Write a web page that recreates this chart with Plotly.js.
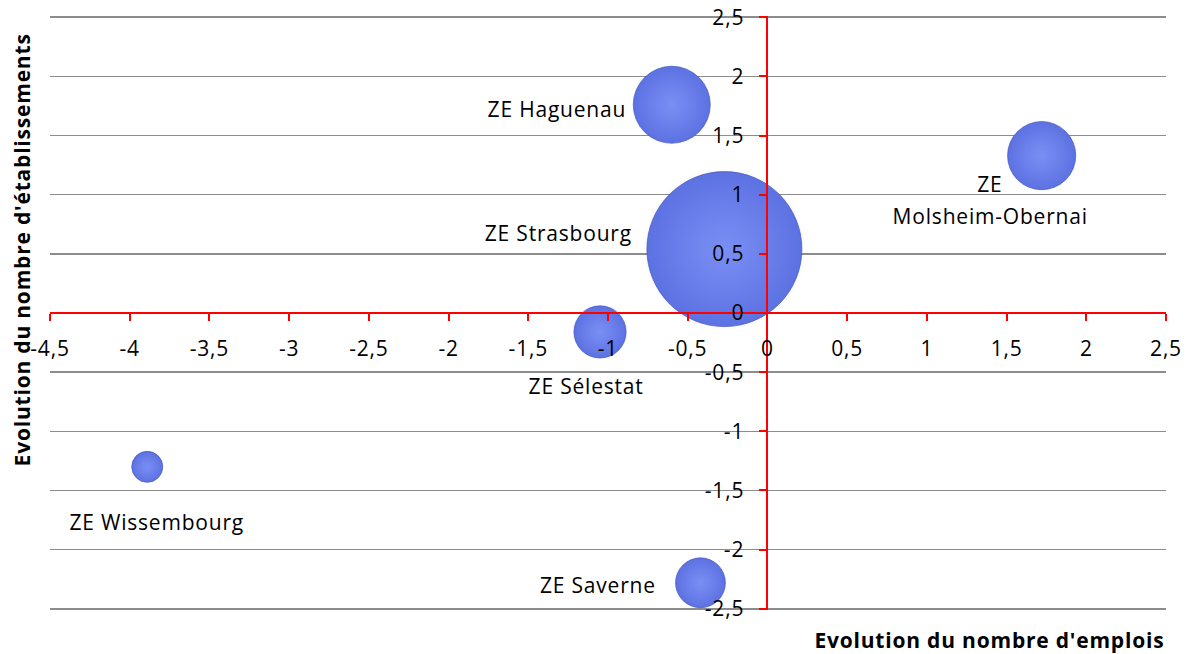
<!DOCTYPE html>
<html>
<head>
<meta charset="utf-8">
<script src="https://cdn.plot.ly/plotly-3.0.1.min.js"></script>
<style>
html,body{margin:0;padding:0;background:#fff;}
#chart{width:1194px;height:654px;}
#chart svg text{letter-spacing:0.8px;}
</style>
</head>
<body>
<div id="chart"></div>
<script>
// Data
const zones = ["ZE Haguenau", "ZE<br>Molsheim-Obernai", "ZE Strasbourg", "ZE Sélestat", "ZE Wissembourg", "ZE Saverne"];
const evolEmplois = [-0.60, 1.72, -0.27, -1.05, -3.89, -0.42];
const evolEtablissements = [1.76, 1.33, 0.54, -0.16, -1.30, -2.28];
const bubbleSize = [74, 58, 300, 34, 12, 31];
const xTickVals = [-4.5, -4, -3.5, -3, -2.5, -2, -1.5, -1, -0.5, 0, 0.5, 1, 1.5, 2, 2.5];
const xTickText = ["-4,5", "-4", "-3,5", "-3", "-2,5", "-2", "-1,5", "-1", "-0,5", "0", "0,5", "1", "1,5", "2", "2,5"];
const yTickVals = [-2.5, -2, -1.5, -1, -0.5, 0, 0.5, 1, 1.5, 2, 2.5];
const yTickText = ["-2,5", "-2", "-1,5", "-1", "-0,5", "0", "0,5", "1", "1,5", "2", "2,5"];

// Label placement (pixel offsets from bubble centre)
const labelStyle = [
  {xanchor: "right", xshift: -48, yshift: -4},
  {xanchor: "center", xshift: -52, yshift: -28, lineGap: 32},
  {xanchor: "right", xshift: -95, yshift: 16},
  {xanchor: "center", xshift: -14, yshift: -54},
  {xanchor: "center", xshift: 9, yshift: -55},
  {xanchor: "right", xshift: -46, yshift: -2}
];

const FONT = "'Open Sans', sans-serif";
const FS = 21;
const xRange = [-4.5, 2.5];
const yRange = [-2.51, 2.51];
const maxRadius = 77.5;
const sizeref = Math.max(...bubbleSize) / (2 * maxRadius * maxRadius);

const shadow = {
  type: "scatter", mode: "markers", x: evolEmplois, y: evolEtablissements,
  hoverinfo: "skip", showlegend: false,
  marker: {
    size: bubbleSize.map(v => v * 1.12), sizemode: "area", sizeref: sizeref, opacity: 1,
    color: "rgba(90,90,90,0)", line: {width: 0},
    gradient: {type: "radial", color: "rgba(60,60,60,0.5)"}
  }
};

const bubbles = {
  type: "scatter", mode: "markers", x: evolEmplois, y: evolEtablissements,
  text: zones, hoverinfo: "text", showlegend: false,
  marker: {
    size: bubbleSize, sizemode: "area", sizeref: sizeref, opacity: 1,
    color: "#5d72e2", line: {width: 1, color: "rgba(70,85,190,0.7)"},
    gradient: {type: "radial", color: "#7a8ff4"}
  }
};

const annotations = [];
zones.forEach((z, i) => {
  const st = labelStyle[i];
  const lines = z.split("<br>");
  lines.forEach((ln, k) => {
    annotations.push({
      x: evolEmplois[i], y: evolEtablissements[i], xref: "x", yref: "y",
      text: ln, showarrow: false, xanchor: st.xanchor, yanchor: "middle",
      xshift: st.xshift, yshift: st.yshift - k * (st.lineGap || 0),
      font: {family: FONT, size: FS, color: "#000"}
    });
  });
});
annotations.push({
  xref: "paper", yref: "paper", x: 1, y: 0, xanchor: "right", yanchor: "top",
  xshift: -11, yshift: -14, text: "<b>Evolution du nombre d'emplois</b>", showarrow: false,
  font: {family: FONT, size: FS, color: "#000"}
});
annotations.push({
  xref: "paper", yref: "paper", x: 0, y: 0.5, xanchor: "center", yanchor: "middle",
  xshift: -28, yshift: 63, textangle: -90, text: "<b>Evolution du nombre d'établissements</b>", showarrow: false,
  font: {family: FONT, size: FS, color: "#000"}
});

const layout = {
  width: 1194, height: 654,
  margin: {l: 50, r: 28, t: 16, b: 44},
  paper_bgcolor: "#fff", plot_bgcolor: "#fff",
  showlegend: false,
  xaxis: {
    range: xRange, anchor: "free",
    position: (0 - yRange[0]) / (yRange[1] - yRange[0]),
    tickvals: xTickVals, ticktext: xTickText,
    showgrid: false, zeroline: false,
    showline: true, linecolor: "#ff0000", linewidth: 2,
    ticks: "outside", ticklen: 7, tickwidth: 2, tickcolor: "#ff0000",
    ticklabelstandoff: 10,
    tickfont: {family: FONT, size: FS, color: "#000"}
  },
  yaxis: {
    range: yRange, anchor: "free",
    position: (0 - xRange[0]) / (xRange[1] - xRange[0]),
    tickvals: yTickVals, ticktext: yTickText,
    showgrid: true, gridcolor: "#8c8c8c", gridwidth: 1.5, zeroline: false,
    showline: true, linecolor: "#ff0000", linewidth: 2,
    ticks: "outside", ticklen: 7, tickwidth: 2, tickcolor: "#ff0000",
    ticklabelstandoff: 11,
    tickfont: {family: FONT, size: FS, color: "#000"}
  },
  annotations: annotations
};

Plotly.newPlot("chart", [shadow, bubbles], layout, {displayModeBar: false, staticPlot: true});
</script>
</body>
</html>
